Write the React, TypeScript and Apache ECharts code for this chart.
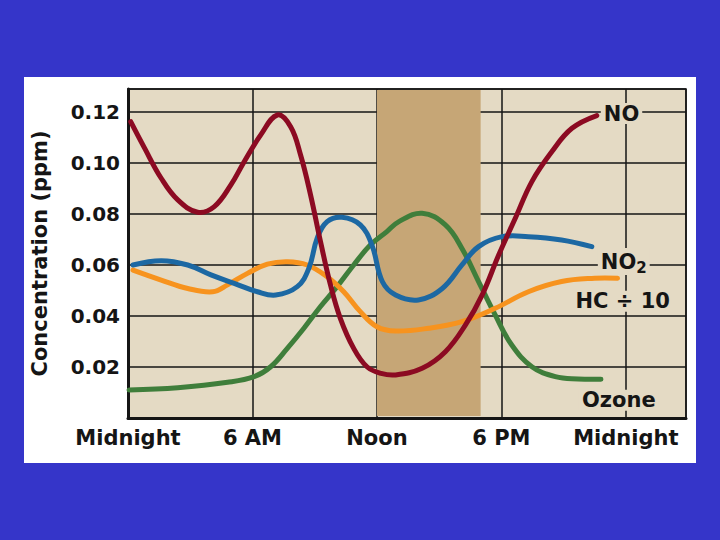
import React, { useEffect, useRef } from "react";
import * as echarts from "echarts";

// hours after midnight, concentration (ppm)
const noData: [number, number][] = [
  [0.13, 0.1162], [0.8, 0.1058], [1.6, 0.094], [2.4, 0.0855], [3.36, 0.0807], [4.16, 0.0829],
  [4.96, 0.0914], [5.6, 0.1005], [6.4, 0.111], [7.2, 0.1188], [7.84, 0.1142], [8.32, 0.1031],
  [8.8, 0.0875], [9.28, 0.0692], [9.76, 0.0522], [10.24, 0.039], [10.88, 0.0273], [11.52, 0.0201],
  [12.2, 0.0175], [12.9, 0.0169], [14.18, 0.0195], [15.3, 0.026], [16.27, 0.0365], [17.07, 0.0482],
  [17.87, 0.0639], [18.67, 0.0783], [19.47, 0.0927], [20.43, 0.1044], [21.4, 0.1136], [22.6, 0.1186],
];
const no2Data: [number, number][] = [
  [0.24, 0.060], [1.6, 0.0617], [2.88, 0.060], [4.0, 0.0561], [5.12, 0.0528], [6.24, 0.0495],
  [7.12, 0.0482], [8.16, 0.0515], [8.72, 0.0587], [9.12, 0.0705], [9.6, 0.077], [10.32, 0.0787],
  [11.2, 0.0757], [11.76, 0.0678], [12.26, 0.0535], [12.9, 0.0482], [14.0, 0.0463], [15.15, 0.0508],
  [16.1, 0.060], [16.9, 0.0672], [18.03, 0.0711], [19.3, 0.0711], [20.9, 0.0698], [22.36, 0.0672],
];
const hcData: [number, number][] = [
  [0.24, 0.058], [1.6, 0.0541], [2.88, 0.0508], [4.08, 0.0495], [4.8, 0.0522], [5.76, 0.0567],
  [6.72, 0.0603], [7.68, 0.0613], [8.64, 0.060], [9.6, 0.0554], [10.4, 0.0495], [11.2, 0.0417],
  [12.0, 0.0358], [12.9, 0.0341], [14.5, 0.0352], [16.1, 0.0378], [17.7, 0.043], [19.3, 0.0495],
  [20.9, 0.0535], [22.5, 0.0548], [23.6, 0.0548],
];
const ozoneData: [number, number][] = [
  [0.05, 0.011], [2.4, 0.0119], [4.8, 0.014], [6.08, 0.0162], [6.88, 0.0201], [7.68, 0.0273],
  [8.48, 0.0352], [9.28, 0.0437], [10.08, 0.0515], [10.88, 0.060], [11.68, 0.0678], [12.48, 0.0731],
  [13.06, 0.077], [14.18, 0.0803], [15.3, 0.0757], [16.1, 0.0665], [16.9, 0.0535], [17.7, 0.0404],
  [18.5, 0.0286], [19.47, 0.0201], [20.6, 0.0162], [21.7, 0.0153], [22.8, 0.0152],
];
const xTickLabels: Record<number, string> = {
  0: "Midnight", 6: "6 AM", 12: "Noon", 18: "6 PM", 24: "Midnight",
};
const sunBand: [number, number] = [12, 17];

const FONT = "DejaVu Sans";
const INK = "#151515";
const BEIGE = "#E4DAC4";

export default function App() {
  const ref = useRef<HTMLDivElement>(null);
  useEffect(() => {
    if (!ref.current) return;
    const chart = echarts.init(ref.current, undefined, { renderer: "svg" });

    const curve = (
      name: string,
      pts: [number, number][],
      color: string,
      label: { text: string; dx: number; dy: number; rich?: any }
    ) => ({
      name,
      type: "custom",
      coordinateSystem: "cartesian2d",
      z: 3,
      data: pts,
      encode: { x: 0, y: 1 },
      renderItem: (params: any, api: any) => {
        if (params.dataIndex !== 0) return null;
        const px = pts.map((p) => api.coord(p));
        const end = px[px.length - 1];
        return {
          type: "group",
          children: [
            {
              type: "polyline",
              shape: { points: px, smooth: 0.4 },
              style: { stroke: color, lineWidth: 5, fill: "none", lineCap: "round", lineJoin: "round" },
            },
            {
              type: "text",
              x: end[0] + label.dx,
              y: end[1] + label.dy,
              style: {
                text: label.text,
                fontFamily: FONT,
                fontWeight: "bold",
                fontSize: 21,
                fill: INK,
                align: "left",
                verticalAlign: "middle",
                backgroundColor: BEIGE,
                padding: [0, 3, 0, 3],
                rich: label.rich,
              },
            },
          ],
        };
      },
    });

    chart.setOption({
      animation: false,
      backgroundColor: "#3535C9",
      graphic: [
        {
          type: "rect",
          z: -10,
          shape: { x: 24, y: 77, width: 672, height: 386 },
          style: { fill: "#ffffff" },
        },
      ],
      grid: {
        left: 128,
        top: 89,
        right: 34,
        bottom: 122,
        show: true,
        backgroundColor: BEIGE,
        borderColor: INK,
        borderWidth: 1.5,
      },
      xAxis: {
        type: "value",
        min: 0,
        max: 26.9,
        interval: 6,
        axisLine: { show: true, onZero: false, lineStyle: { color: INK, width: 3 } },
        axisTick: { show: false },
        splitLine: { show: true, lineStyle: { color: INK, width: 1.5 } },
        axisLabel: {
          showMaxLabel: false,
          margin: 9,
          fontFamily: FONT,
          fontWeight: "bold",
          fontSize: 21,
          color: INK,
          formatter: (v: number) => xTickLabels[Math.round(v)] ?? "",
        },
      },
      yAxis: {
        type: "value",
        min: 0,
        max: 0.129,
        interval: 0.02,
        name: "Concentration (ppm)",
        nameLocation: "middle",
        nameRotate: 90,
        nameGap: 78,
        nameTextStyle: { fontFamily: FONT, fontWeight: "bold", fontSize: 21, color: INK },
        axisLine: { show: true, lineStyle: { color: INK, width: 3 } },
        axisTick: { show: false },
        splitLine: { show: true, lineStyle: { color: INK, width: 1.5 } },
        axisLabel: {
          showMinLabel: false,
          showMaxLabel: false,
          margin: 8,
          fontFamily: FONT,
          fontWeight: "bold",
          fontSize: 20,
          color: INK,
          formatter: (v: number) => v.toFixed(2),
        },
      },
      series: [
        {
          name: "Daylight",
          type: "custom",
          coordinateSystem: "cartesian2d",
          z: 1,
          silent: true,
          data: [sunBand],
          encode: { x: [0, 1] },
          renderItem: (params: any, api: any) => {
            const cs = params.coordSys;
            const x0 = api.coord([api.value(0), 0])[0];
            const x1 = api.coord([api.value(1), 0])[0];
            return {
              type: "rect",
              shape: { x: x0, y: cs.y + 1, width: x1 - x0, height: cs.height - 3 },
              style: { fill: "#C6A676" },
            };
          },
        },
        curve("Ozone", ozoneData, "#3F7E3B", { text: "Ozone", dx: -22, dy: 21 }),
        curve("HC", hcData, "#F7931E", { text: "HC ÷ 10", dx: -45, dy: 23 }),
        curve("NO2", no2Data, "#1C68A3", {
          text: "{a|NO}{s|2}",
          dx: 6,
          dy: 15,
          rich: {
            a: { fontFamily: FONT, fontWeight: "bold", fontSize: 21, fill: INK },
            s: { fontFamily: FONT, fontWeight: "bold", fontSize: 15, fill: INK, padding: [12, 0, 0, 0] },
          },
        }),
        curve("NO", noData, "#8C0A22", { text: "NO", dx: 4, dy: -2 }),
      ],
    });
    return () => chart.dispose();
  }, []);
  return (
    <div
      ref={ref}
      style={{ position: "fixed", left: 0, top: 0, width: 720, height: 540 }}
    />
  );
}
